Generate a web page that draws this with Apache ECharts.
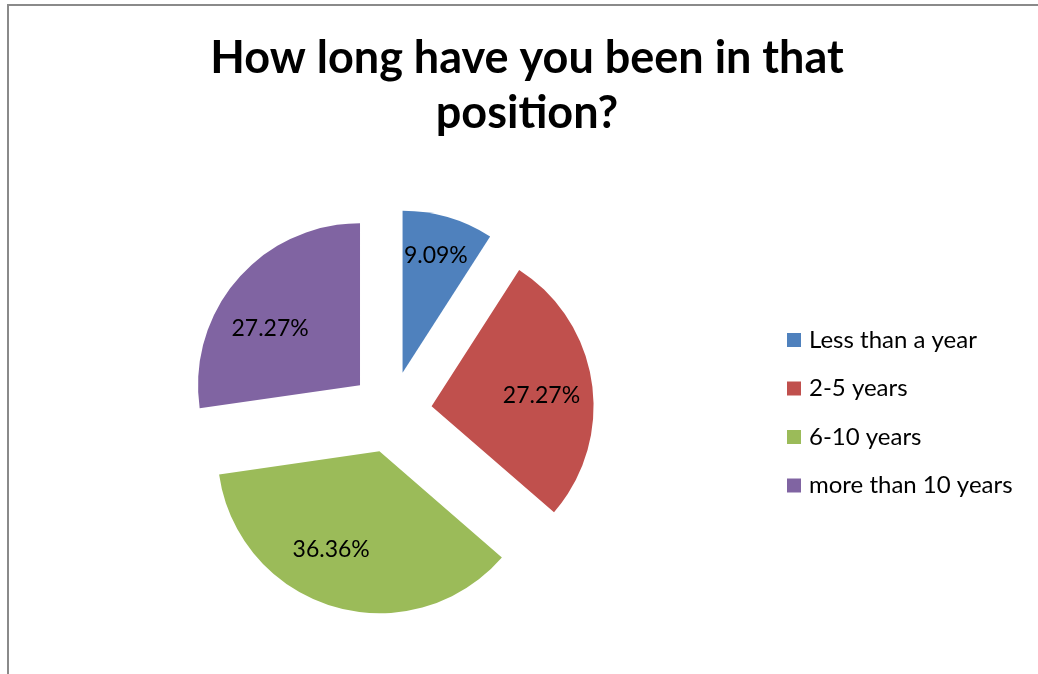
<!DOCTYPE html>
<html>
<head>
<meta charset="utf-8">
<script src="https://cdn.jsdelivr.net/npm/echarts@6/dist/echarts.min.js"></script>
<style>
    html, body { margin: 0; padding: 0; background: #fff; }
    #chart { width: 1038px; height: 674px; }
</style>
</head>
<body>
<div id="chart"></div>
<script>
// 数据
const titleText = 'How long have you been in that\nposition?';
const categories = ['Less than a year', '2-5 years', '6-10 years', 'more than 10 years'];
const percents = [9.09, 27.27, 36.36, 27.27];
const colors = ['#4F81BD', '#C0504D', '#9BBB59', '#8064A2'];
// 标签微调（Excel 的标签并不完全在扇区中线上）
const labelOffsets = [[2, -11], [0, 5], [-17, -8], [-6, 16]];

const FONT = 'Lato';

function buildData(forLabels) {
    return categories.map(function(name, i) {
        return {
            name: name,
            value: percents[i],
            selected: true,
            itemStyle: { color: forLabels ? 'rgba(0,0,0,0)' : colors[i] }
        };
    });
}

const chart = echarts.init(document.getElementById('chart'));

const option = {
    animation: false,
    backgroundColor: '#ffffff',
    title: {
        text: titleText,
        left: 522,
        textAlign: 'center',
        top: 26,
        textStyle: {
            fontFamily: FONT,
            fontSize: 45,
            fontWeight: 'bold',
            lineHeight: 55,
            color: '#000'
        }
    },
    legend: {
        orient: 'vertical',
        left: 787,
        top: 328,
        padding: 0,
        icon: 'rect',
        itemWidth: 14,
        itemHeight: 14,
        itemGap: 24.5,
        data: categories,
        selectedMode: false,
        textStyle: {
            fontFamily: FONT,
            fontSize: 24,
            lineHeight: 24,
            color: '#000',
            padding: [0, 0, 0, 3]
        }
    },
    graphic: [{
        type: 'rect',
        shape: { x: 8, y: 5, width: 1200, height: 1000 },
        style: { fill: 'none', stroke: '#8a8a8a', lineWidth: 2 },
        silent: true
    }],
    series: [{
        name: 'pie',
        type: 'pie',
        center: [391, 412],
        radius: [0, 162],
        startAngle: 90,
        clockwise: true,
        selectedMode: 'multiple',
        selectedOffset: 41,
        avoidLabelOverlap: false,
        label: { show: false },
        labelLine: { show: false },
        emphasis: { disabled: true, scale: false },
        select: { itemStyle: { borderWidth: 0 } },
        itemStyle: { borderWidth: 0 },
        data: buildData(false)
    }, {
        // 标签层
        name: 'labels',
        type: 'pie',
        center: [391, 412],
        radius: [54, 162],
        startAngle: 90,
        clockwise: true,
        selectedMode: 'multiple',
        selectedOffset: 41,
        silent: true,
        avoidLabelOverlap: false,
        label: {
            show: true,
            position: 'inside',
            formatter: function(p) { return p.value.toFixed(2) + '%'; },
            fontFamily: FONT,
            fontSize: 23,
            color: '#000'
        },
        labelLayout: function(params) {
            const off = labelOffsets[params.dataIndex];
            return { dx: off[0], dy: off[1] };
        },
        labelLine: { show: false },
        emphasis: { disabled: true, scale: false },
        select: { itemStyle: { borderWidth: 0 } },
        itemStyle: { borderWidth: 0 },
        data: buildData(true)
    }]
};

chart.setOption(option);
</script>
</body>
</html>
